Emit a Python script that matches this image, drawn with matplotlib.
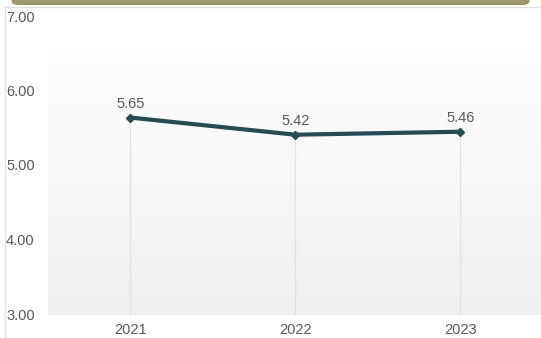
import numpy as np
import matplotlib
matplotlib.use("Agg")
import matplotlib.pyplot as plt
from matplotlib.patches import FancyBboxPatch
from matplotlib.lines import Line2D

plt.rcParams["font.family"] = ["Liberation Sans", "DejaVu Sans"]

years = ["2021", "2022", "2023"]
values = [5.65, 5.42, 5.46]
y_ticks = [3, 4, 5, 6, 7]

W, H = 541, 338
fig = plt.figure(figsize=(W / 100, H / 100), dpi=100)
fig.patch.set_facecolor("white")

# top banner
banner = FancyBboxPatch((12 / W, 1 - 4.5 / H), (W - 24) / W, 20 / H,
                        boxstyle="round,pad=0,rounding_size=0.012",
                        transform=fig.transFigure, facecolor="#9c9a6c",
                        edgecolor="#8a8858", linewidth=0.6, zorder=5)
fig.patches.append(banner)
# container border
fig.lines.append(Line2D([4.5 / W, 4.5 / W], [0, 1 - 7 / H], transform=fig.transFigure,
                        color="#e2e2e2", linewidth=1))
fig.lines.append(Line2D([4.5 / W, 1], [1 - 7 / H, 1 - 7 / H], transform=fig.transFigure,
                        color="#e2e2e2", linewidth=1))

left, right = 48 / W, 1.0
bottom, top = 1 - 315 / H, 1 - 17 / H
ax = fig.add_axes([left, bottom, right - left, top - bottom])
x = np.arange(len(years))
ax.set_xlim(-0.5, 2.49)
ax.set_ylim(3, 7)

# gradient background
grad = np.linspace(0, 1, 256).reshape(-1, 1)
cmap = matplotlib.colors.LinearSegmentedColormap.from_list("g", ["#f0f0f0", "#fefefe"])
ax.imshow(grad, aspect="auto", cmap=cmap, origin="lower",
          extent=[-0.5, 2.49, 3, 6.55], zorder=0)

ax.vlines(x, 3, values, color="#e2e2e2", linewidth=0.9, zorder=1)
ax.axhline(3, color="#dddddd", linewidth=1, zorder=1)

ax.plot(x, values, color="#254c53", linewidth=3.0, marker="D", markersize=4.5,
        solid_capstyle="round", zorder=3)
for xi, v in zip(x, values):
    ax.annotate(f"{v:.2f}", (xi, v), xytext=(0, 5), textcoords="offset points",
                ha="center", va="bottom", fontsize=10.5, color="#595959")

for s in ax.spines.values():
    s.set_visible(False)
ax.set_xticks(x)
ax.set_xticklabels(years)
ax.tick_params(axis="x", length=0, pad=5.5, labelsize=10.5, labelcolor="#595959")
ax.set_yticks([])
for t in y_ticks:
    fig.text(6 / W, ax.transData.transform((0, t))[1] / H - 0.5 / H, f"{t:.2f}",
             transform=fig.transFigure,
             ha="left", va="center", fontsize=10.5, color="#595959")

fig.savefig("out.png", dpi=100)
